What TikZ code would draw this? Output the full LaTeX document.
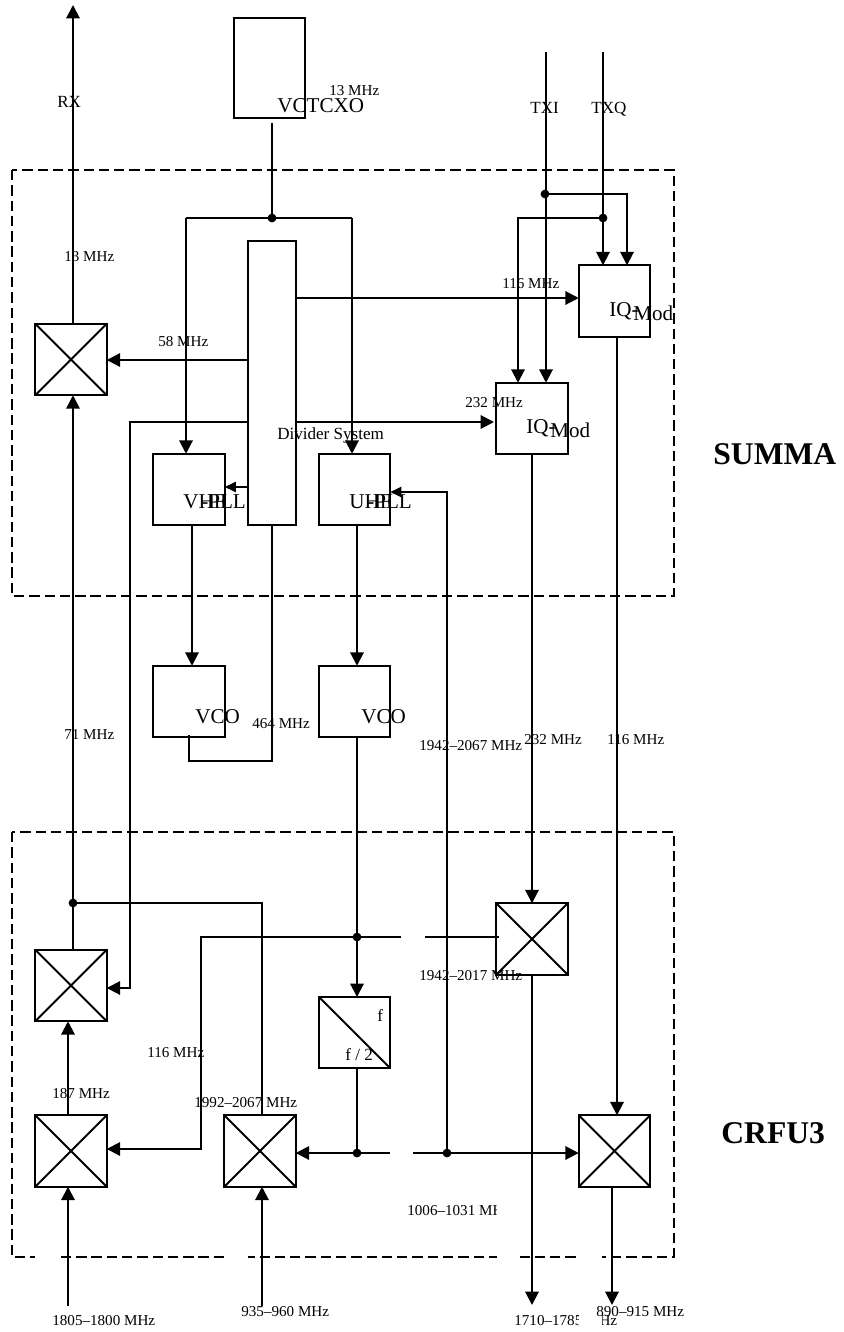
\documentclass[tikz,border=0pt]{standalone}
\usepackage{fontspec}
\setmainfont{Liberation Serif}
\usetikzlibrary{arrows.meta}
\tikzset{
  wire/.style={line width=1.15pt},
  sig/.style={wire,-{Triangle[length=7.6pt,width=7.6pt]}},
  sigsmall/.style={wire,-{Triangle[length=6.4pt,width=5.8pt]}},
  frame/.style={line width=1.1pt,dash pattern=on 5.9pt off 2.8pt},
  block/.style={draw,line width=1.15pt,inner sep=0pt,outer sep=0pt,minimum width=1.43cm,minimum height=1.43cm},
  mixer/.style={block,path picture={
    \draw[line width=1.15pt] (path picture bounding box.north west) -- (path picture bounding box.south east);
    \draw[line width=1.15pt] (path picture bounding box.north east) -- (path picture bounding box.south west);}},
  halver/.style={block,path picture={
    \draw[line width=1.15pt] (path picture bounding box.north west) -- (path picture bounding box.south east);}},
  dot/.style={circle,fill=black,inner sep=0pt,minimum size=5pt},
  freq/.style={anchor=base west,inner sep=0pt,font=\fontsize{8.6}{10}\selectfont},
  signame/.style={anchor=base west,inner sep=0pt,font=\fontsize{9.7}{11}\selectfont},
  blockname/.style={anchor=base west,inner sep=0pt,font=\fontsize{12}{14}\selectfont},
  unitname/.style={anchor=base west,inner sep=0pt,font=\fontsize{18}{20}\selectfont\bfseries},
}
\begin{document}
\begin{tikzpicture}[x=0.02cm,y=-0.02cm]
\useasboundingbox (0,0) rectangle (843,1332);
\draw[frame] (12,170) rectangle (674,596);
\draw[frame] (12,832) rectangle (674,1257);
\node[block,minimum height=2cm] (vctcxo) at (269.5,68) {};
\node[block,minimum width=0.95cm,minimum height=5.68cm] (divider) at (272,383) {};
\node[block] (iqa) at (614.5,301) {};
\node[block] (iqb) at (532,418.5) {};
\node[block] (vhf) at (189,489.5) {};
\node[block] (uhf) at (354.5,489.5) {};
\node[block] (vcoa) at (189,701.5) {};
\node[block] (vcob) at (354.5,701.5) {};
\node[halver] (half) at (354.5,1032.5) {};
\node[mixer] (mixa) at (71,359.5) {};
\node[mixer] (mixb) at (71,985.5) {};
\node[mixer] (mixc) at (71,1151) {};
\node[mixer] (mixd) at (260,1151) {};
\node[mixer] (mixe) at (532,939) {};
\node[mixer] (mixf) at (614.5,1151) {};
\node[dot] (vcxodot) at (272,218) {};
\node[dot] (txidot) at (545,194) {};
\node[dot] (txqdot) at (603,218) {};
\node[dot] (ifdot) at (73,903) {};
\node[dot] (lodot) at (357,937) {};
\node[dot] (divdot) at (357,1153) {};
\node[dot] (uhfdot) at (447,1153) {};
\coordinate (vcxoout) at (272,123);
\coordinate (vhfin) at (186,218);
\coordinate (uhfin) at (352,218);
\coordinate (txitop) at (546,52);
\coordinate (txqtop) at (603,52);
\coordinate (iqain) at (627,194);
\coordinate (iqbin) at (518,218);
\coordinate (iqaclk) at (0,298);
\coordinate (iqbclk) at (130,422);
\coordinate (iqbtip) at (494,422);
\coordinate (mixblo) at (130,988);
\coordinate (mixalo) at (0,360);
\coordinate (vhfref) at (0,487);
\coordinate (vcofb) at (189,761);
\coordinate (vcofbtop) at (189,735);
\coordinate (vhfout) at (192,525);
\coordinate (vcobout) at (357,737);
\coordinate (halfin) at (357,997);
\coordinate (halfout) at (357,1068);
\coordinate (loturn) at (201,937);
\coordinate (mixclo) at (201,1149);
\coordinate (mixeleft) at (499,937);
\coordinate (uhfturn) at (447,492);
\coordinate (rxtop) at (73,5);
\coordinate (ifturn) at (262,903);
\coordinate (rxin) at (68,1306);
\coordinate (gsmin) at (262,1306);
\coordinate (pcsout) at (532,1305);
\coordinate (gsmlo) at (617,1115);
\coordinate (gsmout) at (612,1305);
\draw[wire] (vcxoout) -- (vcxodot.center);
\draw[sig] (vhfin) -- (vhfin |- vhf.north);
\draw[sig] (uhfin) -- (uhfin |- uhf.north);
\draw[wire] (vhfin) -- (uhfin);
\draw[sig] (txitop) -- (txitop |- iqb.north);
\draw[sig] (txqtop) -- (txqtop |- iqa.north);
\draw[sig] (txidot.center) -- (iqain) -- (iqain |- iqa.north);
\draw[sig] (txqdot.center) -- (iqbin) -- (iqbin |- iqb.north);
\draw[sig] (iqaclk -| divider.east) -- (iqaclk -| iqa.west);
\draw[sig] (iqbclk -| divider.east) -- (iqbtip);
\draw[sig] (iqbclk -| divider.west) -- (iqbclk) -- (mixblo) -- (mixblo -| mixb.east);
\draw[sig] (mixalo -| divider.west) -- (mixalo -| mixa.east);
\draw[sigsmall] (vhfref -| divider.west) -- (vhfref -| vhf.east);
\draw[wire] (divider.south) -- (divider.south |- vcofb) -- (vcofb) -- (vcofbtop);
\draw[sig] (vhfout) -- (vhfout |- vcoa.north);
\draw[sig] (vcobout |- uhf.south) -- (vcobout |- vcob.north);
\draw[sig] (vcobout) -- (halfin);
\draw[wire] (halfout) -- (divdot.center);
\draw[sig] (lodot.center) -- (loturn) -- (mixclo) -- (mixclo -| mixc.east);
\draw[wire] (lodot.center) -- (mixeleft);
\draw[sig] (divdot.center) -- (divdot.center -| mixd.east);
\draw[sig] (divdot.center) -- (divdot.center -| mixf.west);
\draw[sigsmall] (uhfdot.center) -- (uhfturn) -- (uhfturn -| uhf.east);
\draw[sig] (rxtop |- mixa.north) -- (rxtop);
\draw[sig] (rxtop |- mixb.north) -- (rxtop |- mixa.south);
\draw[wire] (ifdot.center) -- (ifturn) -- (ifturn |- mixd.north);
\draw[sig] (rxin) -- (rxin |- mixc.south);
\draw[sig] (rxin |- mixc.north) -- (rxin |- mixb.south);
\draw[sig] (gsmin) -- (gsmin |- mixd.south);
\draw[sig] (iqb.south) -- (mixe.north);
\draw[sig] (mixe.south) -- (pcsout);
\draw[sig] (gsmlo |- iqa.south) -- (gsmlo |- mixf.north);
\draw[sig] (gsmout |- mixf.south) -- (gsmout);
\node[freq] (lblifg) at (407,1215) {1006--1031 MHz};
\node[freq] (lblpcs) at (514,1325) {1710--1785 MHz};
\foreach \xa/\ya/\xb/\yb in {401/930/425/945,390/1146/413/1160,35/1250/59/1264,224/1250/248/1264,497/1200/520/1264,579/1250/602/1332}
  \fill[white] (\xa,\ya) rectangle (\xb,\yb);
\node[blockname] (lblvctcxo) at (277,112) {VCTCXO};
\node[blockname] (lblvhf) at (183,508) {VHF};
\node[blockname] (lblvhfpll) at (201,508) {-PLL};
\node[blockname] (lbluhf) at (349,508) {UHF};
\node[blockname] (lbluhfpll) at (367,508) {-PLL};
\node[blockname] (lblvcoa) at (195,723) {VCO};
\node[blockname] (lblvcob) at (361,723) {VCO};
\node[blockname] (lbliqa) at (609,316) {IQ-};
\node[blockname] (lblmoda) at (633,320) {Mod};
\node[blockname] (lbliqb) at (526,433) {IQ-};
\node[blockname] (lblmodb) at (550,437) {Mod};
\node[signame] (lbldiv) at (277,439) {Divider System};
\node[signame] (lblrx) at (57,107) {RX};
\node[signame] (lbltxi) at (530,113) {TXI};
\node[signame] (lbltxq) at (591,113) {TXQ};
\node[signame] (lblf) at (377,1021) {f};
\node[signame] (lblftwo) at (345,1060) {f / 2};
\node[freq] (lblvcxo) at (329,95) {13 MHz};
\node[freq] (lblrxa) at (64,261) {13 MHz};
\node[freq] (lblmixa) at (158,346) {58 MHz};
\node[freq] (lbliqaf) at (502,288) {116 MHz};
\node[freq] (lbliqbf) at (465,407) {232 MHz};
\node[freq] (lblvcofb) at (252,728) {464 MHz};
\node[freq] (lblrxb) at (64,739) {71 MHz};
\node[freq] (lbluhff) at (419,750) {1942--2067 MHz};
\node[freq] (lbliqbo) at (524,744) {232 MHz};
\node[freq] (lbliqao) at (607,744) {116 MHz};
\node[freq] (lblmixe) at (419,980) {1942--2017 MHz};
\node[freq] (lblmixc) at (147,1057) {116 MHz};
\node[freq] (lblmixb) at (52,1098) {187 MHz};
\node[freq] (lblmixd) at (194,1107) {1992--2067 MHz};
\node[freq] (lblrxin) at (52,1325) {1805--1800 MHz};
\node[freq] (lblgsmin) at (241,1316) {935--960 MHz};
\node[freq] (lblgsmout) at (596,1316) {890--915 MHz};
\node[unitname] (lblsumma) at (713,464) {SUMMA};
\node[unitname] (lblcrfu) at (721,1143) {CRFU3};
\end{tikzpicture}
\end{document}
